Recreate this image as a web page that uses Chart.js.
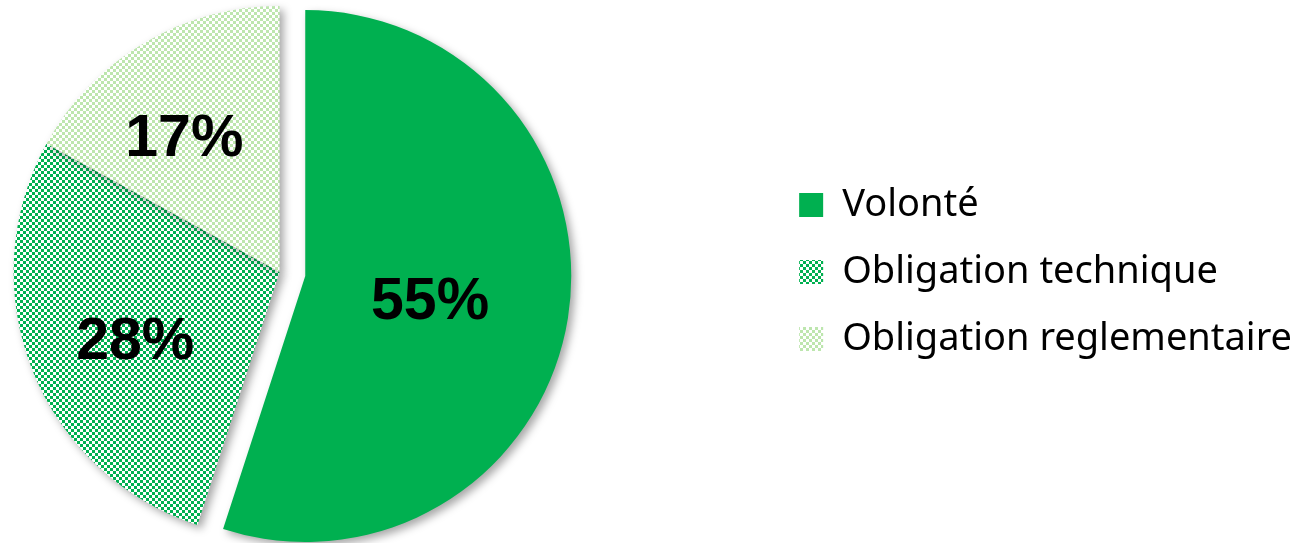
<!DOCTYPE html>
<html>
<head>
<meta charset="utf-8">
<script src="https://cdn.jsdelivr.net/npm/chart.js@4.4.1/dist/chart.umd.min.js"></script>
<style>
  body { margin: 0; background: #fff; overflow: hidden; width: 1303px; height: 543px; position: relative; }
  /* wrapper starts left of the page so the pie sits where the reference has it */
  #wrap { position: absolute; left: -211px; top: 0; width: 1514px; height: 543px; }
</style>
</head>
<body>
<div id="wrap"><canvas id="pie"></canvas></div>
<script>
const labels = ['Volonté', 'Obligation technique', 'Obligation reglementaire'];
const values = [55, 28, 17];
const valueLabels = ['55%', '28%', '17%'];

// small checker patterns like the Excel fills
function checker(fg, bg, size) {
  const c = document.createElement('canvas');
  c.width = c.height = size * 2;
  const x = c.getContext('2d');
  x.fillStyle = bg;
  x.fillRect(0, 0, size * 2, size * 2);
  x.fillStyle = fg;
  x.fillRect(0, 0, size, size);
  x.fillRect(size, size, size, size);
  return x.createPattern(c, 'repeat');
}

const colors = [
  '#00B050',
  checker('#ffffff', '#00B050', 3),
  checker('#ffffff', '#bde6ae', 3)
];

// pull the first slice out of the pie
const explodePlugin = {
  id: 'explode',
  afterDatasetsUpdate(chart, args, opts) {
    const arc = chart.getDatasetMeta(0).data[0];
    const mid = (arc.startAngle + arc.endAngle) / 2;
    arc.x += Math.cos(mid) * opts.distance;
    arc.y += Math.sin(mid) * opts.distance;
  }
};

const shadowPlugin = {
  id: 'shadow',
  beforeDatasetsDraw(chart) {
    const ctx = chart.ctx;
    ctx.save();
    ctx.shadowColor = 'rgba(0,0,0,0.35)';
    ctx.shadowBlur = 8;
    ctx.shadowOffsetX = 4;
    ctx.shadowOffsetY = 4;
  },
  afterDatasetsDraw(chart) {
    chart.ctx.restore();
  }
};

const valueLabelPlugin = {
  id: 'valueLabels',
  afterDraw(chart, args, opts) {
    const ctx = chart.ctx;
    ctx.save();
    ctx.font = 'bold 59px "Liberation Sans", Arial, sans-serif';
    ctx.fillStyle = '#000';
    ctx.textAlign = 'center';
    ctx.textBaseline = 'middle';
    chart.getDatasetMeta(0).data.forEach((arc, i) => {
      const mid = (arc.startAngle + arc.endAngle) / 2;
      const d = arc.outerRadius * opts.radius[i];
      ctx.fillText(valueLabels[i],
        arc.x + Math.cos(mid) * d + opts.dx[i],
        arc.y + Math.sin(mid) * d + opts.dy[i]);
    });
    ctx.restore();
  }
};

new Chart(document.getElementById('pie'), {
  type: 'pie',
  data: {
    labels: labels,
    datasets: [{
      data: values,
      backgroundColor: colors,
      borderWidth: 0,
      radius: 266
    }]
  },
  options: {
    responsive: true,
    maintainAspectRatio: false,
    animation: false,
    events: [],
    layout: { padding: { left: 0, top: 1, right: 1, bottom: 0 } },
    plugins: {
      explode: { distance: 26 },
      valueLabels: { radius: [0.475, 0.6, 0.6], dx: [0, 4, -14], dy: [7, 12, 5] },
      tooltip: { enabled: false },
      legend: {
        position: 'right',
        labels: {
          boxWidth: 24,
          boxHeight: 24,
          padding: 29,
          color: '#000',
          font: { family: '"Noto Sans", sans-serif', size: 38 }
        }
      }
    }
  },
  plugins: [explodePlugin, shadowPlugin, valueLabelPlugin]
});
</script>
</body>
</html>
